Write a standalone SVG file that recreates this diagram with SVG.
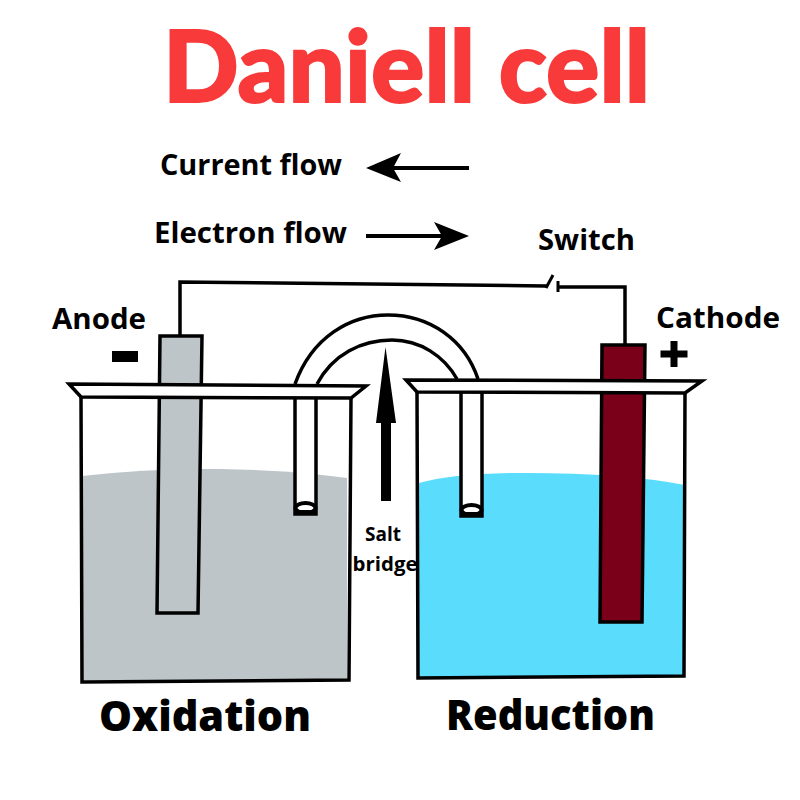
<svg xmlns="http://www.w3.org/2000/svg" width="800" height="800" viewBox="0 0 800 800">
<style>
text{font-family:"Open Sans","Liberation Sans",sans-serif;fill:#000}
.l{font-weight:700;font-size:28px}
.b{font-weight:800;font-size:43px}
.s{font-weight:700;font-size:19px;text-anchor:middle}
.o{fill:none;stroke:#000;stroke-width:3.5}
.a{fill:none;stroke:#000;stroke-width:4}
.rim,.tube{fill:#fff;stroke:#000;stroke-width:3.5;stroke-linejoin:miter}
.end{fill:#fff;stroke:#000;stroke-width:4}
</style>
<rect width="800" height="800" fill="#fff"/>
<text id="title" x="163" y="102" textLength="487" lengthAdjust="spacingAndGlyphs" style="font-family:Lato,sans-serif;font-weight:900;font-size:100px;fill:#f93a3a;stroke:#f93a3a;stroke-width:2">Daniell cell</text>
<g id="legend-current"><text class="l" x="160" y="175" textLength="182" lengthAdjust="spacingAndGlyphs">Current flow</text><path d="M469 168H385" class="a"/><path d="M366 168L401 153L393 168L401 182Z"/></g>
<g id="legend-electron"><text class="l" x="154" y="243" textLength="193" lengthAdjust="spacingAndGlyphs">Electron flow</text><path d="M366 236H450" class="a"/><path d="M469 236L434 222L442 236L434 250Z"/></g>
<g id="left-beaker">
<path d="M82 476Q150 468 220 469Q290 470 347 478V680H82Z" fill="#bdc5c9"/>
<path d="M81 397L82 682L349 680L351 398" class="o"/>
</g>
<g id="right-beaker">
<path d="M419 483Q450 474 510 473Q620 472 685 485V677H419Z" fill="#5adcfd"/>
<path d="M417 392L418 678L684 676L685 393" class="o"/>
</g>
<g id="anode"><path d="M160 336H202L198 613H157Z" fill="#bdc5c9" stroke="#000" stroke-width="3.5"/><text class="l" x="52" y="329" textLength="94" lengthAdjust="spacingAndGlyphs">Anode</text><rect x="112" y="351" width="26" height="11"/></g>
<g id="cathode"><path d="M602 345H645L642 622H600Z" fill="#7a0019" stroke="#000" stroke-width="3.5"/><text class="l" x="656" y="328" textLength="124" lengthAdjust="spacingAndGlyphs">Cathode</text><path d="M670.500 341h7v9.500h10v7h-10v9.500h-7v-9.500h-10v-7h10z"/></g>
<g id="salt-bridge">
<path d="M295 384C312 337 350 315 388 315C430 315 465 340 478 379" class="o"/>
<path d="M317 384C333 354 362 340 392 340C420 340 444 356 457 379" class="o"/>
<path d="M295 397V514H316V397" class="tube"/><ellipse cx="305.500" cy="508" rx="10" ry="5" class="end"/><path d="M295 510V515H316V510Z"/>
<path d="M461 392V516H482V392" class="tube"/><ellipse cx="471.500" cy="510" rx="10" ry="5" class="end"/><path d="M461 512V517H482V512Z"/>
</g>
<g id="beaker-rims">
<path d="M69 384L366 386L351 398L81 397Z" class="rim"/>
<path d="M406 380L702 381L685 393L417 392Z" class="rim"/>
</g>
<g id="connectors">
<path d="M180 335V282L545 286H547M558 287H625V345" fill="none" stroke="#000" stroke-width="3.500"/>
<path d="M546 288L553 275M558 281V292" fill="none" stroke="#000" stroke-width="3"/>
<path d="M386 501V420" stroke="#000" stroke-width="10" fill="none"/>
<path d="M385.500 347L396 423H376Z"/>
</g>
<g id="labels"><text class="l" x="538" y="250" textLength="97" lengthAdjust="spacingAndGlyphs">Switch</text><text class="s" x="383" y="541">Salt</text><text class="s" x="385" y="571" textLength="65" lengthAdjust="spacingAndGlyphs">bridge</text><text class="b" x="99" y="731" textLength="212" lengthAdjust="spacingAndGlyphs">Oxidation</text><text class="b" x="446" y="730" textLength="209" lengthAdjust="spacingAndGlyphs">Reduction</text></g>
</svg>
